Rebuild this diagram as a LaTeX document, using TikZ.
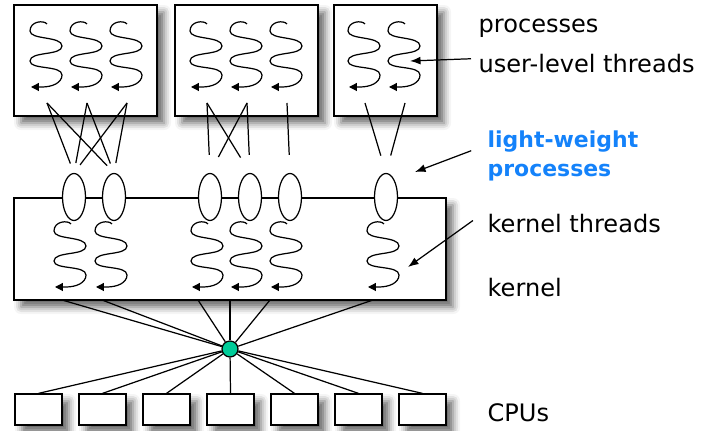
\documentclass[tikz,border=0pt]{standalone}
\usepackage{fontspec}
\setmainfont{DejaVu Sans}
\usetikzlibrary{shapes.geometric,shadows.blur,arrows.meta}
\definecolor{lwpblue}{RGB}{20,130,250}
\definecolor{hubgreen}{RGB}{0,204,153}
\tikzset{
    process box/.style = {
        shape = rectangle,
        draw  = black,
        fill  = white,
        inner sep = 0pt,
        minimum width=#1,
        minimum height=2.22cm,
        blur shadow={shadow xshift=4pt, shadow yshift=-4pt, shadow blur radius=4pt, shadow opacity=60}
    },
    process box/.default = 2.86cm,
    kernel box/.style = {
        shape = rectangle,
        draw  = black,
        fill  = white,
        inner sep = 0pt,
        minimum width=8.64cm,
        minimum height=2.04cm,
        blur shadow={shadow xshift=4pt, shadow yshift=-4pt, shadow blur radius=4pt, shadow opacity=60}
    },
    cpu box/.style = {
        shape = rectangle,
        draw  = black,
        fill  = white,
        inner sep = 0pt,
        minimum width=0.94cm,
        minimum height=0.62cm,
        blur shadow={shadow xshift=4pt, shadow yshift=-4pt, shadow blur radius=4pt, shadow opacity=60}
    },
    lwp/.style = {
        shape = ellipse,
        draw  = black,
        fill  = white,
        inner sep = 0pt,
        minimum width=0.46cm,
        minimum height=0.94cm
    },
    hub dot/.style = {
        shape = circle,
        draw  = black,
        fill  = hubgreen,
        inner sep = 0pt,
        minimum size=0.32cm
    },
    label text/.style = {
        anchor = base west,
        inner sep = 4pt,
        font = \fontsize{13.7}{18}\selectfont
    },
    thread/.pic = {
        \draw[-{Triangle[length=4.5pt,width=4.5pt]}] (17,3) .. controls (14,-1) and (0,0) .. (0,10)
            .. controls (0,19) and (32,15) .. (32,25)
            .. controls (32,35) and (0,30) .. (0,40)
            .. controls (0,49) and (32,44) .. (32,54)
            .. controls (32,62) and (22,66) .. (12,66) -- (1,66);
        \coordinate (-foot) at (17,82);
    }
}

\begin{document}
\begin{tikzpicture}[x=0.02cm, y=-0.02cm, line width=0.7pt, >={Latex[length=6pt,width=4.5pt]}]
    \useasboundingbox (0,0) rectangle (704,431);

    % processes with user-level threads
    \node (p1) at (85.5,60.5) [process box] {};
    \node (p2) at (246.5,60.5) [process box] {};
    \node (p3) at (385.5,60.5) [process box=2.06cm] {};
    \foreach \x [count=\i] in {30,70,110,190,230,270,348,388}
        \pic (u\i) at (\x,21) {thread};

    % kernel with light-weight processes
    \node (kernel) at (230,249) [kernel box] {};
    \foreach \x [count=\i] in {74,114,210,250,290,386}
        \node (l\i) at (\x,197) [lwp] {};
    \foreach \x [count=\i] in {54,95,191,230,270,367}
        \pic (k\i) at (\x,221) {thread};

    % user threads to lwps
    \foreach \u/\l in {1/1,1/2,2/1,2/2,3/1,3/2}
        \draw[shorten >=0.2cm] (u\u-foot) -- (l\l.north);
    \foreach \u/\l in {4/3,4/4,5/3,5/4,6/5,7/6,8/6}
        \draw[shorten >=0.36cm] (u\u-foot) -- (l\l.north);

    % kernel threads to cpus
    \foreach \x [count=\i] in {62,102,198,230,270,373}
        \coordinate (kb\i) at (\x,300);
    \node (hub) at (230,349) [hub dot] {};
    \foreach \i in {1,...,6}
        \draw (kb\i) -- (hub);
    \foreach \i in {1,...,7} {
        \node (cpu\i) at ({38.5+64*(\i-1)},409.5) [cpu box] {};
        \draw (hub) -- (cpu\i.north);
    }

    % labels
    \node (procs) at (471,33) [label text] {processes};
    \node (ult) at (471,73) [label text] {user-level threads};
    \node (lwp) at (480,156) [label text, anchor=west, align=left, text=lwpblue,
        font=\fontsize{12.5}{16}\selectfont\bfseries] {light-weight\\processes};
    \node (kt) at (480,233) [label text] {kernel threads};
    \node (kl) at (480,297) [label text] {kernel};
    \node (cpul) at (480,422) [label text] {CPUs};

    \coordinate (ult tip) at (410,61);
    \coordinate (lwp tip) at (415,172);
    \coordinate (kt tip) at (408,267);
    \draw[->] ([yshift=3pt]ult.west) -- (ult tip);
    \draw[->] ([xshift=-5pt,yshift=3pt]lwp.west) -- (lwp tip);
    \draw[->] ([xshift=-4pt,yshift=2pt]kt.west) -- (kt tip);
\end{tikzpicture}
\end{document}
